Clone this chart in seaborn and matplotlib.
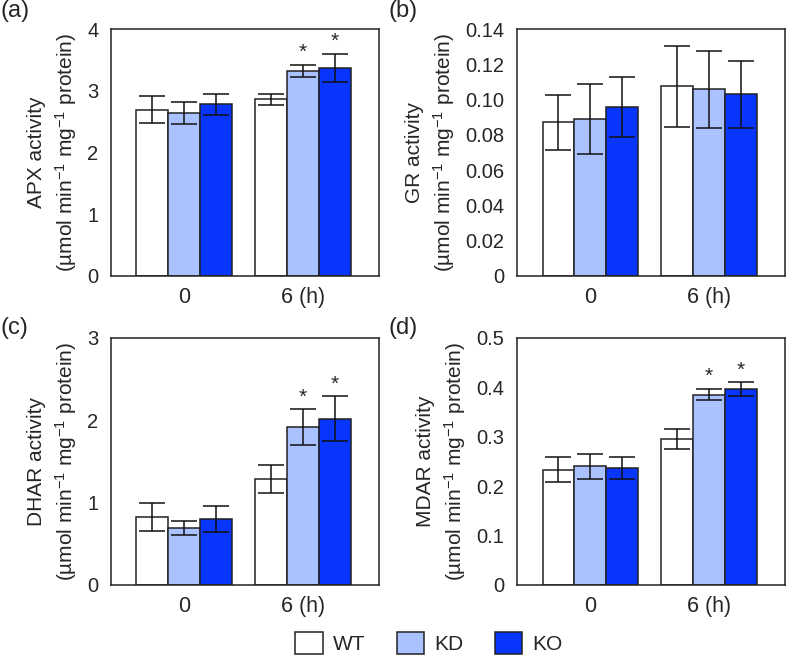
"""
Antioxidant enzyme activities (APX, GR, DHAR, MDAR) in WT, KD and KO plants
at 0 and 6 h. Four-panel grouped bar chart with SE error bars.
"""

import matplotlib
matplotlib.use("Agg")
import matplotlib.pyplot as plt
from matplotlib.patches import Patch
import pandas as pd
import seaborn as sns

TIMES = ["0", "6 (h)"]
GENOTYPES = ["WT", "KD", "KO"]
COLORS = ["#ffffff", "#aac2ff", "#0836ff"]

# values ordered WT0, KD0, KO0, WT6, KD6, KO6
APX_MEAN = [2.69, 2.64, 2.78, 2.86, 3.32, 3.37]
APX_ERR = [0.22, 0.18, 0.17, 0.09, 0.10, 0.23]
GR_MEAN = [0.087, 0.089, 0.096, 0.1075, 0.1058, 0.1031]
GR_ERR = [0.0155, 0.020, 0.017, 0.023, 0.022, 0.019]
DHAR_MEAN = [0.82, 0.69, 0.80, 1.285, 1.917, 2.02]
DHAR_ERR = [0.17, 0.08, 0.155, 0.165, 0.215, 0.27]
MDAR_MEAN = [0.233, 0.240, 0.237, 0.296, 0.385, 0.396]
MDAR_ERR = [0.025, 0.025, 0.022, 0.020, 0.011, 0.014]
SIGNIF = [False, False, False, False, True, True]
GR_SIGNIF = [False] * 6

PANELS = [
    ("(a)", "APX", APX_MEAN, APX_ERR, SIGNIF, 4, [0, 1, 2, 3, 4], ["0", "1", "2", "3", "4"]),
    ("(b)", "GR", GR_MEAN, GR_ERR, GR_SIGNIF, 0.14,
     [0, 0.02, 0.04, 0.06, 0.08, 0.10, 0.12, 0.14],
     ["0", "0.02", "0.04", "0.06", "0.08", "0.10", "0.12", "0.14"]),
    ("(c)", "DHAR", DHAR_MEAN, DHAR_ERR, SIGNIF, 3, [0, 1, 2, 3], ["0", "1", "2", "3"]),
    ("(d)", "MDAR", MDAR_MEAN, MDAR_ERR, SIGNIF, 0.5,
     [0, 0.1, 0.2, 0.3, 0.4, 0.5], ["0", "0.1", "0.2", "0.3", "0.4", "0.5"]),
]

# axes rectangles in figure fractions
RECTS = [
    [0.141, 0.582, 0.340, 0.374],
    [0.657, 0.582, 0.340, 0.374],
    [0.141, 0.114, 0.340, 0.374],
    [0.657, 0.114, 0.340, 0.374],
]
LABEL_POS = [(0.0, 1.0), (0.494, 1.0), (0.0, 0.52), (0.494, 0.52)]


def make_frame(means, errs):
    rows = []
    for i, (m, e) in enumerate(zip(means, errs)):
        rows.append({"time": TIMES[i // 3], "genotype": GENOTYPES[i % 3], "value": m, "err": e})
    return pd.DataFrame(rows)


def draw_panel(fig, rect, label, lpos, name, means, errs, signif, ymax, yticks, yticklabels):
    ax = fig.add_axes(rect)
    df = make_frame(means, errs)
    sns.barplot(data=df, x="time", y="value", hue="genotype", order=TIMES,
                hue_order=GENOTYPES, palette=COLORS, saturation=1, errorbar=None,
                width=0.81, edgecolor="#222222", linewidth=1.1, legend=False, ax=ax)
    # one container per genotype, one bar per time point inside it
    for g, cont in enumerate(ax.containers[:3]):
        for t, p in enumerate(cont.patches):
            cx = p.get_x() + p.get_width() / 2
            i = t * 3 + g
            ax.errorbar(cx, means[i], yerr=errs[i], fmt="none", ecolor="#111111",
                        elinewidth=1.1, capsize=9.7, capthick=1.1, zorder=5)
            if signif[i]:
                ax.text(cx, means[i] + errs[i] + ymax * 0.012, "*", ha="center",
                        va="bottom", fontsize=15)
    ax.set_xlim(-0.62, 1.64)
    ax.set_ylim(0, ymax)
    ax.set_yticks(yticks)
    ax.set_yticklabels(yticklabels)
    ax.set_xticks([0, 1])
    ax.set_xticklabels(TIMES)
    ax.set_xticks([0.5], minor=True)
    ax.tick_params(axis="x", which="major", length=0, labelsize=15.5, pad=8)
    ax.tick_params(axis="x", which="minor", direction="in", length=7, width=1.1)
    ax.tick_params(axis="y", direction="in", length=9.5, width=1.1, labelsize=14.5, pad=9)
    ax.set_xlabel("")
    ax.set_ylabel(f"{name} activity\n(µmol min$^{{-1}}$ mg$^{{-1}}$ protein)",
                  fontsize=15, linespacing=1.35, labelpad=6)
    for s in ax.spines.values():
        s.set_visible(True)
        s.set_linewidth(1.1)
        s.set_color("#222222")
    fig.text(lpos[0], lpos[1], label, ha="left", va="top", fontsize=17)
    return ax


def main() -> None:
    sns.set_theme(style="white")
    plt.rcParams["font.family"] = ["Liberation Sans", "DejaVu Sans"]
    plt.rcParams["mathtext.fontset"] = "custom"
    plt.rcParams["mathtext.rm"] = "Liberation Sans"
    plt.rcParams["mathtext.default"] = "regular"
    fig = plt.figure(figsize=(7.87, 6.6), dpi=100)
    for rect, lpos, panel in zip(RECTS, LABEL_POS, PANELS):
        label, name, means, errs, signif, ymax, yticks, yticklabels = panel
        draw_panel(fig, rect, label, lpos, name, means, errs, signif, ymax, yticks, yticklabels)

    handles = [Patch(facecolor=c, edgecolor="#222222", linewidth=1.1, label=g)
               for g, c in zip(GENOTYPES, COLORS)]
    fig.legend(handles=handles, loc="lower center", bbox_to_anchor=(0.545, -0.02), ncol=3,
               frameon=False, fontsize=15, handlelength=1.3, handleheight=1.3,
               columnspacing=1.5, handletextpad=0.5)
    fig.savefig("out.png", dpi=100)
    plt.close(fig)


if __name__ == "__main__":
    main()
